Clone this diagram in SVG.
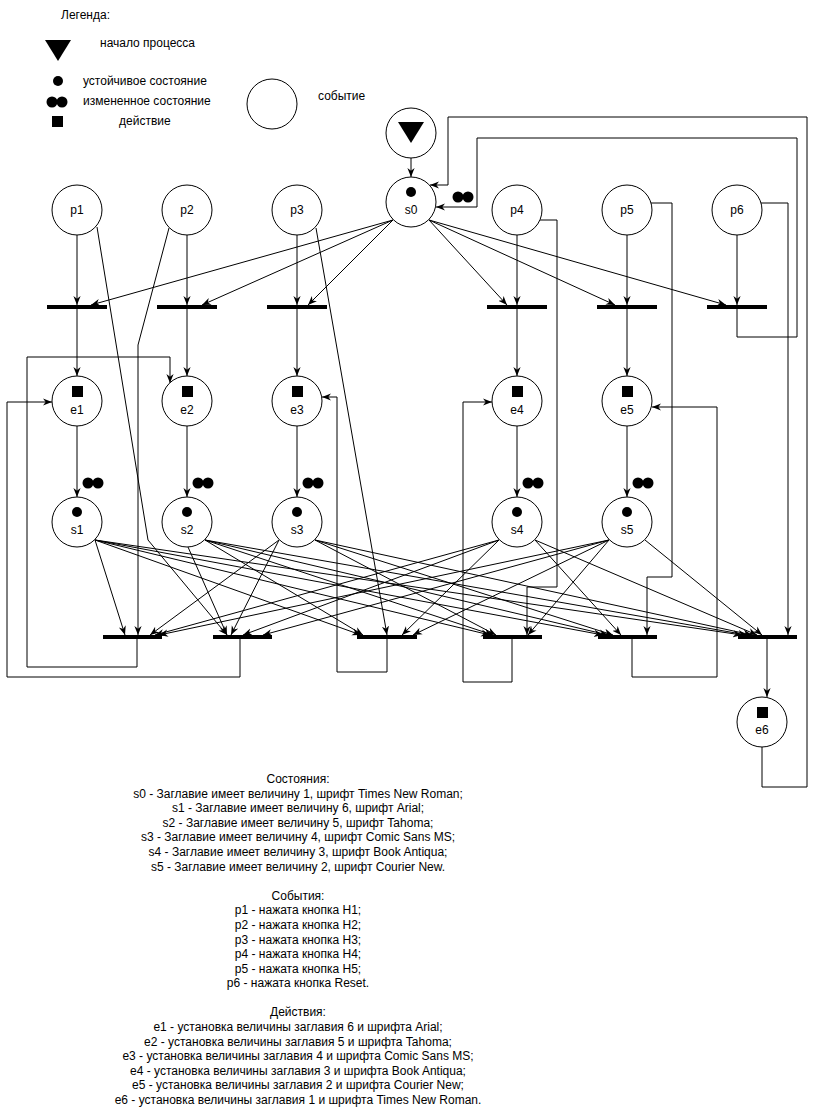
<svg xmlns="http://www.w3.org/2000/svg" width="816" height="1117" viewBox="0 0 816 1117">
<style>
text{font-family:"Liberation Sans",Arial,sans-serif;font-size:12px;fill:#000}
.m{text-anchor:middle}
.n{fill:#fff;stroke:#000;stroke-width:1}
.c{fill:none;stroke:#000;stroke-width:1;marker-end:url(#a)}
.b{stroke:#000;stroke-width:4}
.k{fill:#000}
</style>
<defs>
<marker id="a" viewBox="0 0 10 10" refX="10" refY="5" markerWidth="9" markerHeight="9" markerUnits="userSpaceOnUse" orient="auto">
<path d="M0,1 L10,5 L0,9 L3,5 z" fill="#000"/>
</marker>
</defs>
<rect width="816" height="1117" fill="#fff"/>

<g id="legend">
<text x="61" y="19">Легенда:</text>
<polygon class="k" points="45,40 71,40 58,61"/>
<text x="100" y="47">начало процесса</text>
<circle class="k" cx="58" cy="81" r="5"/>
<text x="83" y="85">устойчивое состояние</text>
<circle class="k" cx="52" cy="102" r="5.5"/>
<circle class="k" cx="62" cy="102" r="5.5"/>
<text x="83" y="105">измененное состояние</text>
<rect class="k" x="52" y="116" width="11" height="11"/>
<text x="119" y="125">действие</text>
<circle class="n" cx="272" cy="104" r="25"/>
<text x="318" y="100">событие</text>
</g>

<g id="connectors">
<path class="c" d="M411,158 L411,177"/>
<path class="c" d="M77,235 L77,305"/>
<path class="c" d="M187,235 L187,305"/>
<path class="c" d="M297,235 L297,305"/>
<path class="c" d="M517,235 L517,305"/>
<path class="c" d="M627,235 L627,305"/>
<path class="c" d="M737,235 L737,305"/>
<path class="c" d="M393,220 L91,305"/>
<path class="c" d="M393,220 L202,305"/>
<path class="c" d="M393,220 L308,305"/>
<path class="c" d="M429,220 L507,305"/>
<path class="c" d="M429,220 L615,305"/>
<path class="c" d="M429,220 L726,305"/>
<path class="c" d="M77,309 L77,376"/>
<path class="c" d="M187,309 L187,376"/>
<path class="c" d="M297,309 L297,376"/>
<path class="c" d="M517,309 L517,376"/>
<path class="c" d="M627,309 L627,376"/>
<path class="c" d="M737,309 L737,337 L797,337 L797,138 L477,138 L477,207 L436,207"/>
<path class="c" d="M77,426 L77,497"/>
<path class="c" d="M187,426 L187,497"/>
<path class="c" d="M297,426 L297,497"/>
<path class="c" d="M517,426 L517,497"/>
<path class="c" d="M627,426 L627,497"/>
<path class="c" d="M97,227 L148,540 L227,635"/>
<path class="c" d="M169,228 L138,345 L138,635"/>
<path class="c" d="M316,228 L387,635"/>
<path class="c" d="M540,220 L557,220 L557,587 L527,587 L527,635"/>
<path class="c" d="M651,203 L672,203 L672,577 L647,577 L647,635"/>
<path class="c" d="M761,203 L788,203 L788,635"/>
<path class="c" d="M95,540 L125,635"/>
<path class="c" d="M95,540 L361,635"/>
<path class="c" d="M95,540 L490,635"/>
<path class="c" d="M95,540 L603,635"/>
<path class="c" d="M95,540 L742,635"/>
<path class="c" d="M188,547 L227,635"/>
<path class="c" d="M205,540 L363,635"/>
<path class="c" d="M205,540 L493,635"/>
<path class="c" d="M205,540 L608,635"/>
<path class="c" d="M205,540 L747,635"/>
<path class="c" d="M279,540 L150,635"/>
<path class="c" d="M279,540 L231,635"/>
<path class="c" d="M315,540 L496,635"/>
<path class="c" d="M315,540 L613,635"/>
<path class="c" d="M315,540 L752,635"/>
<path class="c" d="M499,540 L155,635"/>
<path class="c" d="M499,540 L243,635"/>
<path class="c" d="M499,540 L402,635"/>
<path class="c" d="M535,540 L621,635"/>
<path class="c" d="M535,540 L757,635"/>
<path class="c" d="M609,540 L159,635"/>
<path class="c" d="M609,540 L263,635"/>
<path class="c" d="M609,540 L413,635"/>
<path class="c" d="M609,540 L528,635"/>
<path class="c" d="M645,540 L762,635"/>
<path class="c" d="M137,639 L137,667 L27,667 L27,357 L170,357 L170,383"/>
<path class="c" d="M240,639 L240,677 L7,677 L7,402 L52,402"/>
<path class="c" d="M387,639 L387,672 L337,672 L337,397 L322,397"/>
<path class="c" d="M512,639 L512,682 L463,682 L463,402 L492,402"/>
<path class="c" d="M632,639 L632,677 L717,677 L717,407 L652,407"/>
<path class="c" d="M767,639 L767,697"/>
<path class="c" d="M762,747 L762,787 L807,787 L807,117 L448,117 L448,185 L430,185"/>
</g>

<g id="start"><circle class="n" cx="411" cy="133" r="25"/><polygon class="k" points="398,122 424,122 411,143"/></g>
<g id="s0"><circle class="n" cx="411" cy="202" r="25"/><circle class="k" cx="411" cy="192" r="5"/><text class="m" x="411" y="214">s0</text></g>
<g id="s0-mark"><circle class="k" cx="458" cy="197" r="5.5"/><circle class="k" cx="468" cy="197" r="5.5"/></g>

<g id="p1"><circle class="n" cx="77" cy="210" r="25"/><text class="m" x="77" y="214">p1</text></g>
<g id="p2"><circle class="n" cx="187" cy="210" r="25"/><text class="m" x="187" y="214">p2</text></g>
<g id="p3"><circle class="n" cx="297" cy="210" r="25"/><text class="m" x="297" y="214">p3</text></g>
<g id="p4"><circle class="n" cx="517" cy="210" r="25"/><text class="m" x="517" y="214">p4</text></g>
<g id="p5"><circle class="n" cx="627" cy="210" r="25"/><text class="m" x="627" y="214">p5</text></g>
<g id="p6"><circle class="n" cx="737" cy="210" r="25"/><text class="m" x="737" y="214">p6</text></g>

<g id="t1"><line class="b" x1="47" y1="307" x2="107" y2="307"/></g>
<g id="t2"><line class="b" x1="157" y1="307" x2="217" y2="307"/></g>
<g id="t3"><line class="b" x1="267" y1="307" x2="327" y2="307"/></g>
<g id="t4"><line class="b" x1="487" y1="307" x2="547" y2="307"/></g>
<g id="t5"><line class="b" x1="597" y1="307" x2="657" y2="307"/></g>
<g id="t6"><line class="b" x1="707" y1="307" x2="767" y2="307"/></g>

<g id="e1"><circle class="n" cx="77" cy="401" r="25"/><rect class="k" x="72" y="386" width="11" height="11"/><text class="m" x="77" y="414">e1</text></g>
<g id="e2"><circle class="n" cx="187" cy="401" r="25"/><rect class="k" x="182" y="386" width="11" height="11"/><text class="m" x="187" y="414">e2</text></g>
<g id="e3"><circle class="n" cx="297" cy="401" r="25"/><rect class="k" x="292" y="386" width="11" height="11"/><text class="m" x="297" y="414">e3</text></g>
<g id="e4"><circle class="n" cx="517" cy="401" r="25"/><rect class="k" x="512" y="386" width="11" height="11"/><text class="m" x="517" y="414">e4</text></g>
<g id="e5"><circle class="n" cx="627" cy="401" r="25"/><rect class="k" x="622" y="386" width="11" height="11"/><text class="m" x="627" y="414">e5</text></g>

<g id="s1"><circle class="n" cx="77" cy="522" r="25"/><circle class="k" cx="77" cy="512" r="5"/><text class="m" x="77" y="534">s1</text><circle class="k" cx="88" cy="483" r="5.5"/><circle class="k" cx="98" cy="483" r="5.5"/></g>
<g id="s2"><circle class="n" cx="187" cy="522" r="25"/><circle class="k" cx="187" cy="512" r="5"/><text class="m" x="187" y="534">s2</text><circle class="k" cx="198" cy="483" r="5.5"/><circle class="k" cx="208" cy="483" r="5.5"/></g>
<g id="s3"><circle class="n" cx="297" cy="522" r="25"/><circle class="k" cx="297" cy="512" r="5"/><text class="m" x="297" y="534">s3</text><circle class="k" cx="308" cy="483" r="5.5"/><circle class="k" cx="318" cy="483" r="5.5"/></g>
<g id="s4"><circle class="n" cx="517" cy="522" r="25"/><circle class="k" cx="517" cy="512" r="5"/><text class="m" x="517" y="534">s4</text><circle class="k" cx="528" cy="483" r="5.5"/><circle class="k" cx="538" cy="483" r="5.5"/></g>
<g id="s5"><circle class="n" cx="627" cy="522" r="25"/><circle class="k" cx="627" cy="512" r="5"/><text class="m" x="627" y="534">s5</text><circle class="k" cx="638" cy="483" r="5.5"/><circle class="k" cx="648" cy="483" r="5.5"/></g>

<g id="tA"><line class="b" x1="103" y1="637" x2="162" y2="637"/></g>
<g id="tB"><line class="b" x1="213" y1="637" x2="272" y2="637"/></g>
<g id="tC"><line class="b" x1="357" y1="637" x2="417" y2="637"/></g>
<g id="tD"><line class="b" x1="483" y1="637" x2="542" y2="637"/></g>
<g id="tE"><line class="b" x1="598" y1="637" x2="657" y2="637"/></g>
<g id="tF"><line class="b" x1="738" y1="637" x2="797" y2="637"/></g>

<g id="e6"><circle class="n" cx="762" cy="722" r="25"/><rect class="k" x="757" y="707" width="11" height="11"/><text class="m" x="762" y="734">e6</text></g>

<g id="notes">
<text class="m" x="298" y="783">Состояния:</text>
<text class="m" x="298" y="797.6">s0 - Заглавие имеет величину 1, шрифт Times New Roman;</text>
<text class="m" x="298" y="812.2">s1 - Заглавие имеет величину 6, шрифт Arial;</text>
<text class="m" x="298" y="826.8">s2 - Заглавие имеет величину 5, шрифт Tahoma;</text>
<text class="m" x="298" y="841.4">s3 - Заглавие имеет величину 4, шрифт Comic Sans MS;</text>
<text class="m" x="298" y="856">s4 - Заглавие имеет величину 3, шрифт Book Antiqua;</text>
<text class="m" x="298" y="870.5">s5 - Заглавие имеет величину 2, шрифт Courier New.</text>
<text class="m" x="298" y="899.7">События:</text>
<text class="m" x="298" y="914.3">p1 - нажата кнопка H1;</text>
<text class="m" x="298" y="928.9">p2 - нажата кнопка H2;</text>
<text class="m" x="298" y="943.5">p3 - нажата кнопка H3;</text>
<text class="m" x="298" y="958.1">p4 - нажата кнопка H4;</text>
<text class="m" x="298" y="972.7">p5 - нажата кнопка H5;</text>
<text class="m" x="298" y="987.3">p6 - нажата кнопка Reset.</text>
<text class="m" x="298" y="1016.4">Действия:</text>
<text class="m" x="298" y="1031">e1 - установка величины заглавия 6 и шрифта Arial;</text>
<text class="m" x="298" y="1045.6">e2 - установка величины заглавия 5 и шрифта Tahoma;</text>
<text class="m" x="298" y="1060.2">e3 - установка величины заглавия 4 и шрифта Comic Sans MS;</text>
<text class="m" x="298" y="1074.8">e4 - установка величины заглавия 3 и шрифта Book Antiqua;</text>
<text class="m" x="298" y="1089.4">e5 - установка величины заглавия 2 и шрифта Courier New;</text>
<text class="m" x="298" y="1104">e6 - установка величины заглавия 1 и шрифта Times New Roman.</text>
</g>
</svg>
